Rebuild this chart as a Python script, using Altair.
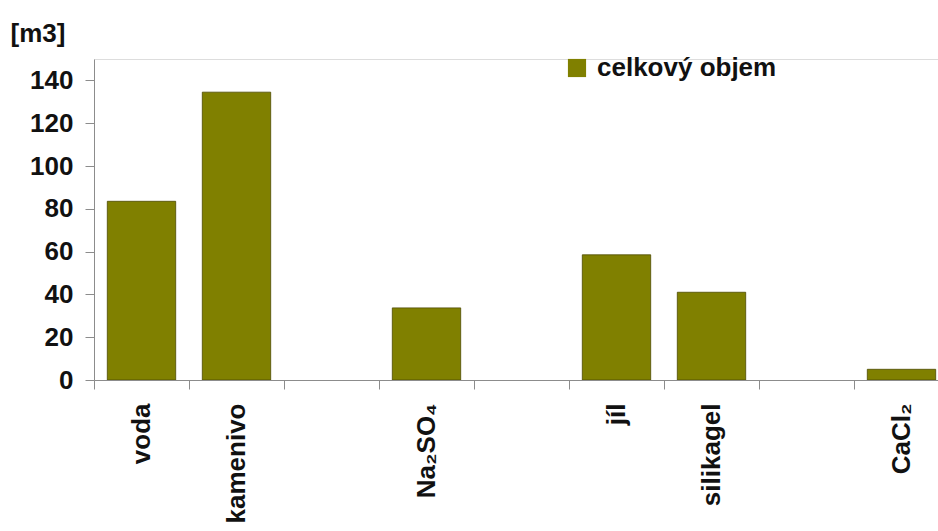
import altair as alt
import pandas as pd

# Category slots along the x axis (blank slots are empty gaps between groups)
categories = ["voda", "kamenivo", "gap1", "Na₂SO₄", "gap2", "jíl", "silikagel", "gap3", "CaCl₂"]
materials = ["voda", "kamenivo", "Na₂SO₄", "jíl", "silikagel", "CaCl₂"]
volumes = [83.5, 134.5, 33.7, 58.5, 41.0, 5.0]
series_name = "celkový objem"
y_ticks = [0, 20, 40, 60, 80, 100, 120, 140]

df = pd.DataFrame({"material": materials, "objem": volumes, "series": series_name})

FONT = "Liberation Sans"
OLIVE = "#808000"

label_expr = "indexof(datum.label, 'gap') == 0 ? '' : datum.label"

chart = (
    alt.Chart(df)
    .mark_bar(stroke="#4d4a00", strokeWidth=0.8, clip=True)
    .encode(
        x=alt.X(
            "material:N",
            sort=categories,
            scale=alt.Scale(domain=categories, range=[0, 855], paddingInner=0.28, paddingOuter=0.14),
            axis=alt.Axis(
                title=None,
                labelAngle=270,
                labelExpr=label_expr,
                labelFont=FONT,
                labelFontSize=26,
                labelFontWeight="bold",
                labelColor="#111111",
                labelPadding=14,
                labelOffset=47.5,
                tickSize=9,
                bandPosition=0.5,
                tickOffset=-47.5,
                domainColor="#8c8c8c",
                tickColor="#8c8c8c",
                labelOverlap=False,
            ),
        ),
        y=alt.Y(
            "objem:Q",
            scale=alt.Scale(domain=[0, 150], nice=False),
            axis=alt.Axis(
                title="[m3]",
                titleAngle=0,
                titleAlign="left",
                titleBaseline="middle",
                titleX=-84,
                titleY=-26,
                titleFont=FONT,
                titleFontSize=26,
                titleFontWeight="bold",
                titleColor="#111111",
                values=y_ticks,
                labelFont=FONT,
                labelFontSize=26,
                labelFontWeight="bold",
                labelColor="#111111",
                labelPadding=12,
                tickSize=9,
                grid=False,
                domainColor="#8c8c8c",
                tickColor="#8c8c8c",
            ),
        ),
        color=alt.Color(
            "series:N",
            scale=alt.Scale(range=[OLIVE]),
            legend=alt.Legend(
                title=None,
                orient="none",
                legendX=470,
                legendY=-4,
                padding=0,
                symbolType="square",
                symbolSize=330,
                symbolStrokeWidth=0,
                labelFont=FONT,
                labelFontSize=26,
                labelFontWeight="bold",
                labelColor="#111111",
                labelOffset=7,
                labelLimit=0,
            ),
        ),
    )
    .properties(
        width=844,
        height=321,
        autosize=alt.AutoSizeParams(type="none"),
        padding={"left": 94, "top": 59, "right": 0, "bottom": 151},
    )
    .configure_view(stroke=None)
    .configure(background="white")
)

chart.save("out.html", embed_options={"renderer": "svg", "actions": False})
